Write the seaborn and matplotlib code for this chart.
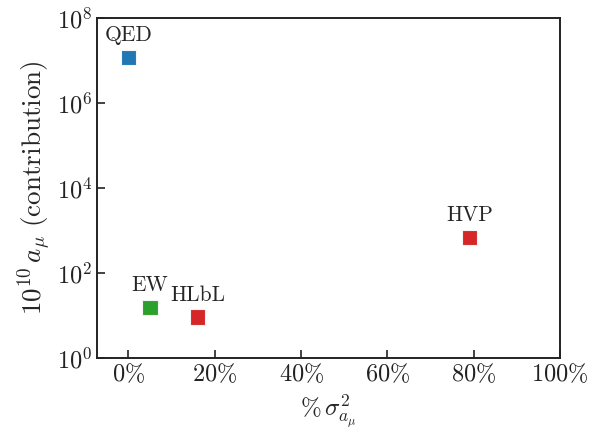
import matplotlib
matplotlib.use("Agg")
import matplotlib.pyplot as plt
import seaborn as sns
import pandas as pd
from matplotlib.ticker import FixedLocator, FixedFormatter, NullLocator

names = ["QED", "EW", "HLbL", "HVP"]
sigma_frac = [0.0, 0.05, 0.16, 0.79]
contrib = [1.165e7, 15.4, 9.2, 693.0]
colors = ["#1f77b4", "#2ca02c", "#d62728", "#d62728"]
xtick_vals = [0.0, 0.2, 0.4, 0.6, 0.8, 1.0]
xtick_labels = [r"$0\%$", r"$20\%$", r"$40\%$", r"$60\%$", r"$80\%$", r"$100\%$"]
ytick_vals = [1e0, 1e2, 1e4, 1e6, 1e8]
ytick_labels = [r"$10^{0}$", r"$10^{2}$", r"$10^{4}$", r"$10^{6}$", r"$10^{8}$"]

sns.set_style("ticks")
plt.rcParams["mathtext.fontset"] = "cm"
plt.rcParams["font.family"] = ["serif"]
plt.rcParams["font.serif"] = ["cmr10", "DejaVu Serif"]
plt.rcParams["axes.formatter.use_mathtext"] = True

df = pd.DataFrame({"name": names, "x": sigma_frac, "y": contrib})

fig = plt.figure(figsize=(5.92, 4.33), dpi=100)
ax = fig.add_axes([97/592, 1 - 358/433, (560-97)/592, (358-18)/433])

sns.scatterplot(data=df, x="x", y="y", hue="name", palette=dict(zip(names, colors)),
                marker="s", s=120, linewidth=0.8, edgecolor="#f4f4f4", legend=False, ax=ax, zorder=3)
ax.set_yscale("log")
ax.set_xlim(-0.073, 1.0)
ax.set_ylim(1e0, 1e8)

for n, xv, yv in zip(names, sigma_frac, contrib):
    ax.annotate(n, (xv, yv), xytext=(0, 9), textcoords="offset points",
                ha="center", va="bottom", fontsize=15.5, family="serif")

ax.xaxis.set_major_locator(FixedLocator(xtick_vals))
ax.xaxis.set_major_formatter(FixedFormatter(xtick_labels))
ax.yaxis.set_major_locator(FixedLocator(ytick_vals))
ax.yaxis.set_major_formatter(FixedFormatter(ytick_labels))
ax.yaxis.set_minor_locator(NullLocator())
ax.xaxis.set_minor_locator(NullLocator())
ax.tick_params(direction="in", length=6, width=1.2, labelsize=17.5, colors="#222222")
for sp in ax.spines.values():
    sp.set_linewidth(1.4)
    sp.set_color("#222222")

ax.set_xlabel(r"$\%\,\sigma^2_{a_\mu}$", fontsize=18, labelpad=4)
ax.set_ylabel(r"$10^{10}\,a_\mu\ \mathrm{(contribution)}$", fontsize=19.5, labelpad=2)

fig.savefig("out.png", dpi=100)
